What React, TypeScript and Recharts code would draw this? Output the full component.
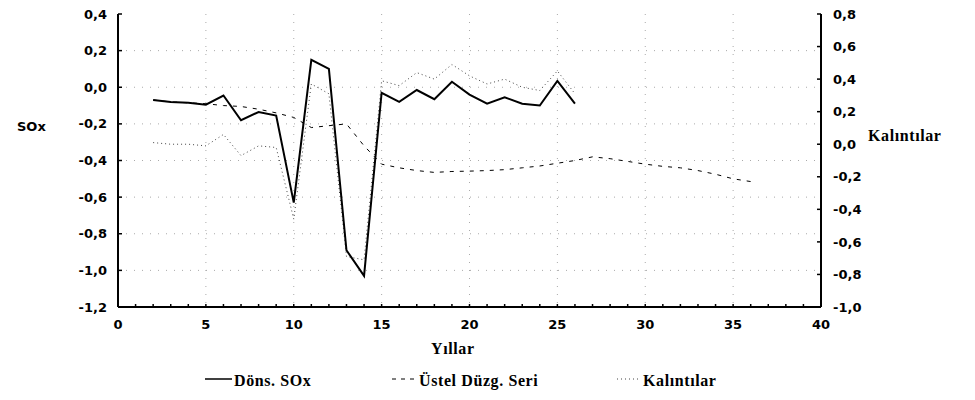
import { LineChart, Line, XAxis, YAxis, CartesianGrid } from 'recharts'

const years = [2, 3, 4, 5, 6, 7, 8, 9, 10, 11, 12, 13, 14, 15, 16, 17, 18, 19, 20, 21, 22, 23, 24, 25, 26, 27, 28, 29, 30, 31, 32, 33, 34, 35, 36]

// Döns. SOx (left axis), years 2-26
const sox = [-0.07, -0.08, -0.085, -0.095, -0.045, -0.18, -0.135, -0.155, -0.63, 0.15, 0.1, -0.89, -1.03, -0.03, -0.08, -0.015, -0.065, 0.03, -0.04, -0.09, -0.055, -0.09, -0.1, 0.035, -0.09]

// Üstel Düzg. Seri (left axis), years 2-36
const smooth = [-0.07, -0.08, -0.085, -0.09, -0.1, -0.105, -0.12, -0.14, -0.165, -0.22, -0.21, -0.2, -0.32, -0.42, -0.44, -0.455, -0.465, -0.46, -0.458, -0.455, -0.45, -0.44, -0.43, -0.415, -0.4, -0.38, -0.39, -0.405, -0.42, -0.432, -0.44, -0.455, -0.475, -0.5, -0.515]

// Kalıntılar (right axis), years 2-26
const resid = [0.01, 0.0, 0.0, -0.01, 0.06, -0.07, -0.01, -0.02, -0.46, 0.37, 0.31, -0.69, -0.71, 0.39, 0.36, 0.44, 0.4, 0.49, 0.42, 0.37, 0.4, 0.35, 0.33, 0.45, 0.31]

const xTicks = Array.from({ length: 41 }, (_, i) => i)
const leftTicks = [-1.2, -1.0, -0.8, -0.6, -0.4, -0.2, 0, 0.2, 0.4]
const rightTicks = [-1.0, -0.8, -0.6, -0.4, -0.2, 0, 0.2, 0.4, 0.6, 0.8]
const gridX = [5, 10, 15, 20, 25, 30, 35]
const gridY = [-1.0, -0.8, -0.6, -0.4, -0.2, 0, 0.2]

const data = years.map((year, i) => ({
  year,
  sox: sox[i],
  smooth: smooth[i],
  resid: resid[i],
}))

const fmt = (v: number) => (Math.abs(v) < 1e-9 ? 0 : v).toFixed(1).replace('.', ',')

const tickFont = { fill: '#000', fontSize: 13, fontFamily: 'DejaVu Sans', fontWeight: 'bold' }
const serif = {
  fontFamily: '"Liberation Serif", "Times New Roman", serif',
  fontWeight: 'bold' as const,
  fontSize: 16,
  letterSpacing: 0.6,
  color: '#000',
}
const axisLine = { stroke: '#000', strokeWidth: 2 }

function Text({ x, y, children, style }: { x: number; y: number; children: string; style?: any }) {
  return (
    <div style={{ position: 'absolute', left: x, top: y - 9, lineHeight: '18px', whiteSpace: 'nowrap', ...style }}>
      {children}
    </div>
  )
}

export default function App() {
  return (
    <div style={{ position: 'absolute', left: 0, top: 0, width: 975, height: 400, background: '#fff' }}>
      <LineChart width={975} height={400} data={data} margin={{ top: 14, right: 114, bottom: 63, left: 78 }}>
        <CartesianGrid
          yAxisId="left"
          verticalValues={gridX}
          horizontalValues={gridY}
          stroke="#aaa"
          strokeDasharray="1 7"
        />
        <XAxis
          dataKey="year"
          type="number"
          domain={[0, 40]}
          ticks={xTicks}
          interval={0}
          height={30}
          tickFormatter={(v: number) => (v % 5 === 0 ? String(v) : '')}
          tick={tickFont}
          tickSize={-3}
          tickMargin={16}
          tickLine={{ stroke: '#000', strokeWidth: 1.5 }}
          axisLine={axisLine}
        />
        <XAxis
          xAxisId="top"
          dataKey="year"
          type="number"
          orientation="top"
          domain={[0, 40]}
          ticks={xTicks}
          interval={0}
          height={0}
          tick={false}
          tickSize={-3}
          tickLine={{ stroke: '#000', strokeWidth: 1.5 }}
          axisLine={axisLine}
        />
        <YAxis
          yAxisId="left"
          domain={[-1.2, 0.4]}
          ticks={leftTicks}
          interval={0}
          width={40}
          tickFormatter={fmt}
          tick={tickFont}
          tickSize={-4}
          tickMargin={15}
          tickLine={{ stroke: '#000', strokeWidth: 1.5 }}
          axisLine={axisLine}
        />
        <YAxis
          yAxisId="right"
          orientation="right"
          domain={[-1.0, 0.8]}
          ticks={rightTicks}
          interval={0}
          width={40}
          tickFormatter={fmt}
          tick={{ ...tickFont, textAnchor: 'start' }}
          tickSize={-4}
          tickMargin={16}
          tickLine={{ stroke: '#000', strokeWidth: 1.5 }}
          axisLine={axisLine}
        />
        <Line
          yAxisId="left"
          dataKey="smooth"
          stroke="#000"
          strokeWidth={1}
          strokeDasharray="4 6"
          dot={false}
          isAnimationActive={false}
        />
        <Line
          yAxisId="right"
          dataKey="resid"
          stroke="#444"
          strokeWidth={1}
          strokeDasharray="1 3"
          dot={false}
          isAnimationActive={false}
        />
        <Line
          yAxisId="left"
          dataKey="sox"
          stroke="#000"
          strokeWidth={2}
          dot={false}
          isAnimationActive={false}
        />
      </LineChart>

      <Text x={17} y={127} style={{ fontFamily: 'DejaVu Sans', fontWeight: 'bold', fontSize: 13 }}>SOx</Text>
      <Text x={868} y={136} style={serif}>Kalıntılar</Text>
      <Text x={431} y={349} style={serif}>Yıllar</Text>

      <svg style={{ position: 'absolute', left: 0, top: 370 }} width={975} height={20}>
        <line x1={205} x2={232} y1={9} y2={9} stroke="#000" strokeWidth={1.5} />
        <line x1={392} x2={417} y1={9} y2={9} stroke="#000" strokeWidth={1} strokeDasharray="4 5" />
        <line x1={617} x2={640} y1={9} y2={9} stroke="#444" strokeWidth={1} strokeDasharray="1 3" />
      </svg>
      <Text x={234} y={381} style={serif}>Döns. SOx</Text>
      <Text x={419} y={381} style={serif}>Üstel Düzg. Seri</Text>
      <Text x={643} y={381} style={serif}>Kalıntılar</Text>
    </div>
  )
}
